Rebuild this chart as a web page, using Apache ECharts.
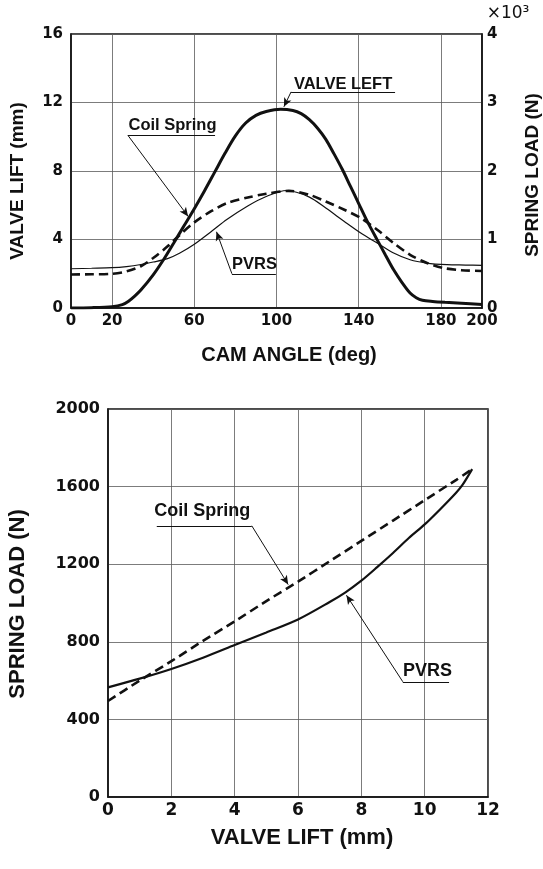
<!DOCTYPE html>
<html>
<head>
<meta charset="utf-8">
<script src="https://cdn.jsdelivr.net/npm/echarts@6/dist/echarts.min.js"></script>
<style>
  html, body { margin: 0; padding: 0; background: #ffffff; }
  #main { width: 543px; height: 869px; }
</style>
</head>
<body>
<div id="main"></div>
<script>
// ---- Upper chart: cam angle (deg) ----
const angleTicks = [0, 20, 60, 100, 140, 180, 200];

// Valve lift (mm) over cam angle
const liftAngle = [0, 10, 20, 25, 28, 31, 34, 40, 45, 50, 55, 60, 65, 70, 75, 80, 85, 90, 95, 102,
  108, 112, 116, 120, 124, 128, 132, 136, 140, 144, 149, 153, 157, 161, 165, 168, 171, 176, 182, 190, 200];
const liftMm = [0, 0.02, 0.08, 0.2, 0.4, 0.7, 1.05, 1.94, 2.82, 3.8, 4.8, 5.8, 6.85, 7.95, 9.05, 10.05, 10.8, 11.25, 11.47, 11.6,
  11.53, 11.35, 11.0, 10.5, 9.85, 9.0, 8.1, 7.1, 6.1, 5.1, 3.98, 3.1, 2.23, 1.5, 0.87, 0.6, 0.45, 0.38, 0.33, 0.28, 0.2];

// Coil spring load (N) over cam angle
const coilAngle = [0, 10, 20, 27, 34, 40, 47, 53, 60, 68, 76, 86, 95, 106, 116, 124, 133, 141, 149, 157, 165, 173, 181, 190, 200];
const coilLoadByAngle = [490, 492, 500, 534, 610, 729, 900, 1069, 1250, 1410, 1532, 1613, 1667, 1710, 1652, 1555, 1434, 1313, 1142, 948, 777, 660, 585, 552, 540];

// PVRS load (N) over cam angle
const pvrsAngle = [0, 10, 20, 27, 34, 40, 47, 53, 60, 68, 76, 86, 95, 105, 116, 124, 133, 141, 149, 157, 165, 173, 183, 192, 200];
const pvrsLoadByAngle = [573, 580, 588, 605, 635, 671, 720, 802, 930, 1110, 1295, 1490, 1628, 1715, 1619, 1459, 1263, 1094, 948, 802, 704, 656, 632, 627, 621];

// ---- Lower chart: spring load (N) vs valve lift (mm) ----
const coilLift = [0, 1, 2, 3, 4, 5, 6, 7, 8, 9, 10, 11, 11.5];
const coilLoad = [495, 600, 700, 805, 905, 1010, 1110, 1215, 1320, 1425, 1530, 1635, 1690];
const pvrsLift = [0, 1, 2, 3, 4, 5, 6, 7, 7.5, 8, 8.5, 9, 9.5, 10, 10.5, 11, 11.2, 11.5];
const pvrsLoad = [565, 610, 660, 718, 783, 848, 915, 1005, 1055, 1115, 1185, 1258, 1335, 1405, 1485, 1570, 1610, 1690];

const zip = (xs, ys) => xs.map((x, i) => [x, ys[i]]);

const INK = '#111111';
const GRIDC = '#5a5a5a';
const TEXT_FONT = '"Liberation Sans", Arial, sans-serif';
const NUM_FONT = '"DejaVu Sans", sans-serif';

// Callout labels: text anchor, underline and leader arrow, in each chart's data units
const upperNotes = [
  { text: 'VALVE LEFT', at: [132.4, 13.03], line: [[107.1, 12.62], [157.7, 12.62]], tip: [103.6, 11.75] },
  { text: 'Coil Spring', at: [49.4, 10.64], line: [[27.7, 10.08], [70.1, 10.08]], tip: [57.0, 5.35] },
  { text: 'PVRS', at: [89.3, 2.53], line: [[78.3, 2.0], [99.7, 2.0]], tip: [70.8, 4.45] }
];
const lowerNotes = [
  { text: 'Coil Spring', at: [2.98, 1476], line: [[1.54, 1398], [4.54, 1398]], tip: [5.69, 1095], from: 1 },
  { text: 'PVRS', at: [10.09, 651], line: [[9.31, 594], [10.77, 594]], tip: [7.53, 1040], from: 0 }
];

function noteMarks(notes, fontSize) {
  const lines = [];
  const points = [];
  notes.forEach(n => {
    const start = n.line[n.from === 1 ? 1 : 0];
    lines.push([{ coord: n.line[0], symbol: 'none' }, { coord: n.line[1], symbol: 'none' }]);
    lines.push([{ coord: start, symbol: 'none' }, { coord: n.tip, symbol: 'arrow', symbolSize: [6, 9] }]);
    points.push({
      coord: n.at, symbol: 'circle', symbolSize: 0,
      label: { show: true, position: 'inside', formatter: n.text, color: INK,
        fontFamily: TEXT_FONT, fontWeight: 'bold', fontSize: fontSize }
    });
  });
  return {
    markLine: { silent: true, animation: false, symbol: ['none', 'none'],
      label: { show: false }, lineStyle: { color: INK, width: 1, type: 'solid' },
      emphasis: { disabled: true }, data: lines },
    markPoint: { silent: true, animation: false, data: points }
  };
}

const plain = v => String(v);
const tickLabel = (size) => ({ color: INK, fontFamily: NUM_FONT, fontWeight: 'bold', fontSize: size, formatter: plain });
const splitLine = { show: true, lineStyle: { color: GRIDC, width: 0.8 } };
const axisLine = { show: true, onZero: false, lineStyle: { color: INK, width: 1.5 } };

const upperMarks = noteMarks(upperNotes, 16.5);
const lowerMarks = noteMarks(lowerNotes, 18);

const chart = echarts.init(document.getElementById('main'), null, { renderer: 'canvas' });

chart.setOption({
  backgroundColor: '#ffffff',
  animation: false,
  grid: [
    { left: 71, top: 34, width: 411, height: 274, show: true, borderColor: INK, borderWidth: 1.5, backgroundColor: 'transparent' },
    { left: 108, top: 409, width: 380, height: 388, show: true, borderColor: INK, borderWidth: 1.5, backgroundColor: 'transparent' }
  ],
  xAxis: [
    { gridIndex: 0, type: 'value', min: 0, max: 200, interval: 20,
      axisLine: axisLine, axisTick: { show: false, customValues: angleTicks },
      axisLabel: Object.assign(tickLabel(15), { margin: 6, customValues: angleTicks }),
      splitLine: splitLine },
    { gridIndex: 1, type: 'value', min: 0, max: 12, interval: 2,
      axisLine: axisLine, axisTick: { show: false },
      axisLabel: Object.assign(tickLabel(17), { margin: 5 }),
      splitLine: splitLine }
  ],
  yAxis: [
    { gridIndex: 0, type: 'value', min: 0, max: 16, interval: 4,
      axisLine: axisLine, axisTick: { show: false },
      axisLabel: Object.assign(tickLabel(15), { margin: 8 }),
      splitLine: splitLine },
    { gridIndex: 0, type: 'value', position: 'right', min: 0, max: 4000, interval: 1000,
      axisLine: axisLine, axisTick: { show: false },
      axisLabel: Object.assign(tickLabel(15), { margin: 5, formatter: v => String(v / 1000) }),
      splitLine: { show: false } },
    { gridIndex: 1, type: 'value', min: 0, max: 2000, interval: 400,
      axisLine: axisLine, axisTick: { show: false },
      axisLabel: Object.assign(tickLabel(16), { margin: 8 }),
      splitLine: splitLine }
  ],
  series: [
    Object.assign({
      name: 'VALVE LIFT', type: 'line', xAxisIndex: 0, yAxisIndex: 0,
      data: zip(liftAngle, liftMm), showSymbol: false, symbol: 'none',
      smooth: 0.3, lineStyle: { color: INK, width: 3 }, z: 5
    }, upperMarks),
    {
      name: 'Coil Spring', type: 'line', xAxisIndex: 0, yAxisIndex: 1,
      data: zip(coilAngle, coilLoadByAngle), showSymbol: false, symbol: 'none',
      smooth: 0.3, lineStyle: { color: INK, width: 2.6, type: [9, 5] }
    },
    {
      name: 'PVRS', type: 'line', xAxisIndex: 0, yAxisIndex: 1,
      data: zip(pvrsAngle, pvrsLoadByAngle), showSymbol: false, symbol: 'none',
      smooth: 0.3, lineStyle: { color: INK, width: 1.2 }
    },
    {
      name: 'Coil Spring', type: 'line', xAxisIndex: 1, yAxisIndex: 2,
      data: zip(coilLift, coilLoad), showSymbol: false, symbol: 'none',
      smooth: 0.2, lineStyle: { color: INK, width: 2.6, type: [9, 5] }
    },
    Object.assign({
      name: 'PVRS', type: 'line', xAxisIndex: 1, yAxisIndex: 2,
      data: zip(pvrsLift, pvrsLoad), showSymbol: false, symbol: 'none',
      smooth: 0.3, lineStyle: { color: INK, width: 2.2 }
    }, lowerMarks)
  ],
  graphic: [
    { type: 'text', x: 18, y: 181, rotation: Math.PI / 2,
      style: { text: 'VALVE LIFT (mm)', fill: INK, font: 'bold 19px ' + TEXT_FONT, align: 'center', verticalAlign: 'middle' } },
    { type: 'text', x: 533, y: 175, rotation: Math.PI / 2,
      style: { text: 'SPRING LOAD (N)', fill: INK, font: 'bold 19px ' + TEXT_FONT, align: 'center', verticalAlign: 'middle' } },
    { type: 'text', x: 508, y: 14,
      style: { text: '×10³', fill: INK, font: '17px ' + NUM_FONT, align: 'center', verticalAlign: 'middle' } },
    { type: 'text', x: 289, y: 355,
      style: { text: 'CAM ANGLE (deg)', fill: INK, font: 'bold 20px ' + TEXT_FONT, align: 'center', verticalAlign: 'middle' } },
    { type: 'text', x: 18, y: 604, rotation: Math.PI / 2,
      style: { text: 'SPRING LOAD (N)', fill: INK, font: 'bold 22px ' + TEXT_FONT, align: 'center', verticalAlign: 'middle' } },
    { type: 'text', x: 302, y: 838,
      style: { text: 'VALVE LIFT (mm)', fill: INK, font: 'bold 22px ' + TEXT_FONT, align: 'center', verticalAlign: 'middle' } }
  ]
});
</script>
</body>
</html>
